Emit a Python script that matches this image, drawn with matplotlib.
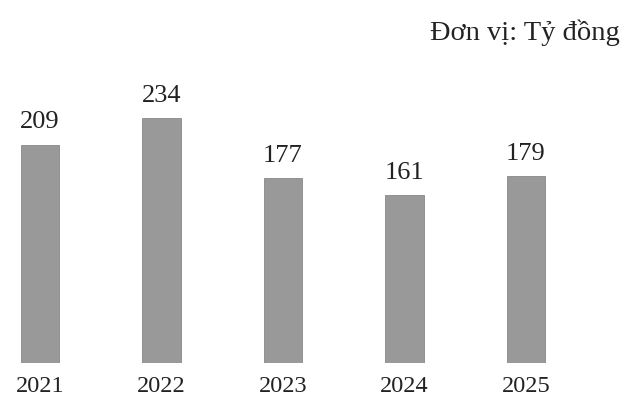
import numpy as np
from matplotlib import pyplot as plt

years = ["2021", "2022", "2023", "2024", "2025"]
values = [209, 234, 177, 161, 179]
unit_label = "Đơn vị: Tỷ đồng"

plt.rcParams['font.family'] = ['Liberation Serif', 'DejaVu Serif']

fig = plt.figure(figsize=(6.31, 4.07), dpi=100)
# axes placed in pixel terms: baseline at y=363 from top
ax = fig.add_axes([0, 44 / 407, 1, 313.5 / 407])

x = np.arange(len(years))
ax.bar(x, values, width=0.313, color="#999999", edgecolor="#888888", linewidth=0.6)

for xi, v in zip(x, values):
    ax.annotate(str(v), (xi, v), xytext=(0, 8), textcoords="offset points",
                ha="center", va="bottom", fontsize=19, color="#222222")

ax.set_xlim(-0.329, 4.864)
ax.set_ylim(0, 300)
ax.set_xticks(x)
ax.set_xticklabels(years, fontsize=17.5, color="#222222")
ax.tick_params(axis="x", length=0, pad=9)
ax.set_yticks([])
for s in ax.spines.values():
    s.set_visible(False)

fig.text(620 / 631, 1 - 33 / 407, unit_label, fontsize=20.5,
         ha="right", va="center", color="#222222")

fig.savefig("out.png", dpi=100)
